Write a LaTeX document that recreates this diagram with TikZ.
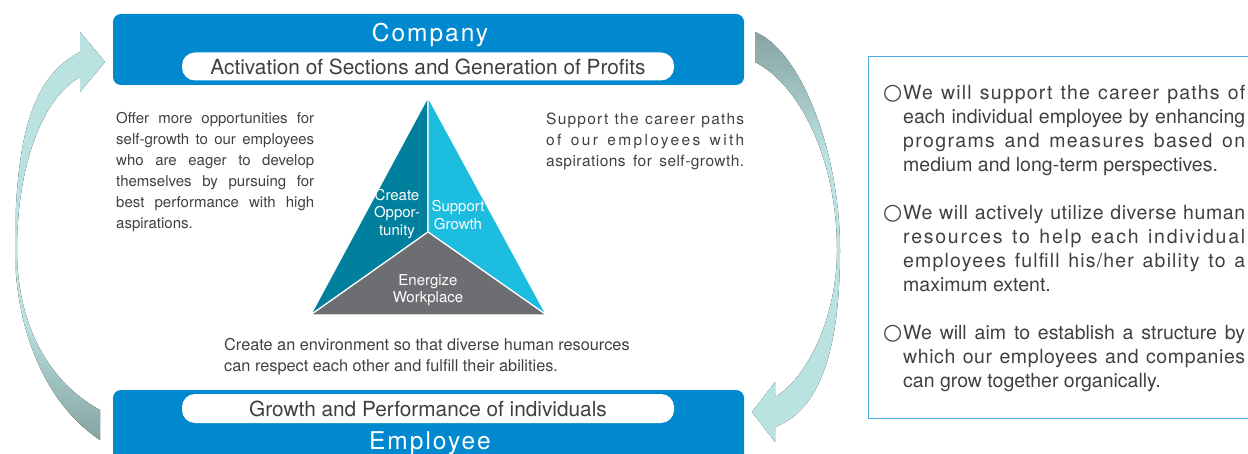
\documentclass[tikz,border=0pt]{standalone}
\usepackage{fontspec}
\setmainfont{TeX Gyre Heros}
\newfontfamily\symfont{DejaVu Sans}
\usetikzlibrary{positioning,calc}

\definecolor{boxblue}{HTML}{0089CF}
\definecolor{triteal}{HTML}{00809C}
\definecolor{tricyan}{HTML}{1DBDE0}
\definecolor{trigray}{HTML}{6D6E71}
\definecolor{arrowlight}{HTML}{BAE2E1}
\definecolor{arrowdark}{HTML}{86A3A2}
\definecolor{textgray}{HTML}{404040}
\definecolor{frameblue}{HTML}{4AAEE2}

\pgfdeclareverticalshading{arrowup}{100bp}{color(0bp)=(arrowdark); color(25bp)=(arrowdark); color(40bp)=(arrowlight); color(100bp)=(arrowlight)}
\pgfdeclareverticalshading{arrowdown}{100bp}{color(0bp)=(arrowlight); color(60bp)=(arrowlight); color(75bp)=(arrowdark); color(100bp)=(arrowdark)}

\newcommand\policy[1]{\noindent\hangindent=20pt\hangafter=1\makebox[20pt][l]{\symfont\fontsize{22}{24}\selectfont\char"25CB}#1\par}
\newcommand\tracked[2]{{\addfontfeatures{LetterSpace=#1}#2}}

\begin{document}
\begin{tikzpicture}[x=1pt,y=-1pt,
  bigbox/.style={fill=boxblue,rounded corners=8pt,minimum width=631pt,inner sep=0pt},
  pill/.style={fill=white,rounded corners=13pt,minimum width=492pt,inner sep=0pt,text=textgray,font=\fontsize{20.8}{22}\selectfont},
  title/.style={text=white,inner sep=0pt,font=\fontsize{24.5}{28}\selectfont\addfontfeatures{LetterSpace=8}},
  body/.style={text=textgray,inner sep=0pt,font=\fontsize{15}{21}\selectfont},
  tri/.style={draw=white,line width=1.2pt,line join=round},
  trilabel/.style={text=white,align=center,inner sep=0pt,font=\fontsize{15}{17.5}\selectfont}]

\useasboundingbox (0,0) rectangle (1248,454);
\clip (0,0) rectangle (1248,454);

% cycle arrows
\fill[shading=arrowup] (100,440) .. controls (40,400) and (15,320) .. (15,250)
  .. controls (15,130) and (35,75) .. (80,52) -- (80,32) -- (105,62) -- (80,92) -- (80,77)
  .. controls (40,100) and (17,170) .. (17,250) .. controls (17,320) and (45,380) .. (100,410) -- cycle;
\fill[shading=arrowdown] (755,32) .. controls (800,50) and (840,150) .. (840,250)
  .. controls (840,350) and (820,410) .. (775,427) -- (775,442) -- (752,412) -- (775,382) -- (775,397)
  .. controls (805,380) and (837,320) .. (837,250) .. controls (837,160) and (800,85) .. (755,62) -- cycle;

% company / employee
\node[bigbox,minimum height=71pt] (company) at (428.5,49.5) {};
\node[pill,minimum height=28pt] (profits) at (428,66.5) {Activation of Sections and Generation of Profits};
\node[title,anchor=base] (companylbl) at (430,42) {Company};

\node[bigbox,minimum height=80pt] (employee) at (428.5,430) {};
\node[pill,minimum height=29pt] (growth) at (428,408.5) {Growth and Performance of individuals};
\node[title,anchor=base] (employeelbl) at (430,449) {Employee};

% triangle
\coordinate (apex) at (428,97);
\coordinate (bl) at (310.5,315);
\coordinate (br) at (546.5,315);
\coordinate (mid) at (428,232);
\filldraw[tri,fill=triteal] (apex) -- (mid) -- (bl) -- cycle;
\filldraw[tri,fill=tricyan] (apex) -- (br) -- (mid) -- cycle;
\filldraw[tri,fill=trigray] (bl) -- (mid) -- (br) -- cycle;

\node[trilabel] (opportunity) at (397,214) {Create\\Oppor-\\tunity};
\node[trilabel] (support) at (458,215) {Support\\Growth};
\node[trilabel] (energize) at (428,290) {Energize\\Workplace};

% texts round the triangle
\node[body,text width=198pt,align=justify,anchor=north west] (offer) at (116,112)
  {Offer more opportunities for\linebreak self-growth to our employees\linebreak who are eager to develop\linebreak themselves by pursuing for\linebreak best performance with high\linebreak aspirations.};
\node[body,font=\fontsize{15.5}{21}\selectfont,text width=198pt,align=justify,anchor=north west] (career) at (546,113)
  {\tracked{8}{Support the career paths}\linebreak \tracked{15}{of our employees with}\linebreak \tracked{3}{aspirations for self-growth.}{\parfillskip=0pt\par}};
\node[body,font=\fontsize{16.3}{21}\selectfont,align=left,anchor=north west] (environment) at (224,338)
  {Create an environment so that diverse human resources\\can respect each other and fulfill their abilities.};

% policies
\node[draw=frameblue,line width=0.9pt,minimum width=400pt,minimum height=362pt,anchor=north west,inner sep=0pt] (frame) at (868,56) {};
\node[text=textgray,inner sep=0pt,text width=362pt,align=justify,anchor=north west,font=\fontsize{19.5}{24}\selectfont] (policies) at (883,85) {%
  \policy{\tracked{6}{We will support the career paths of}\linebreak each individual employee by enhancing\linebreak \tracked{7}{programs and measures based on}\linebreak medium and long-term perspectives.}
  \vskip 24pt
  \policy{\tracked{3}{We will actively utilize diverse human}\linebreak \tracked{9}{resources to help each individual}\linebreak \tracked{6}{employees fulfill his/her ability to a}\linebreak maximum extent.}
  \vskip 24pt
  \policy{We will aim to establish a structure by\linebreak \tracked{3}{which our employees and companies}\linebreak can grow together organically.}};

\end{tikzpicture}
\end{document}
